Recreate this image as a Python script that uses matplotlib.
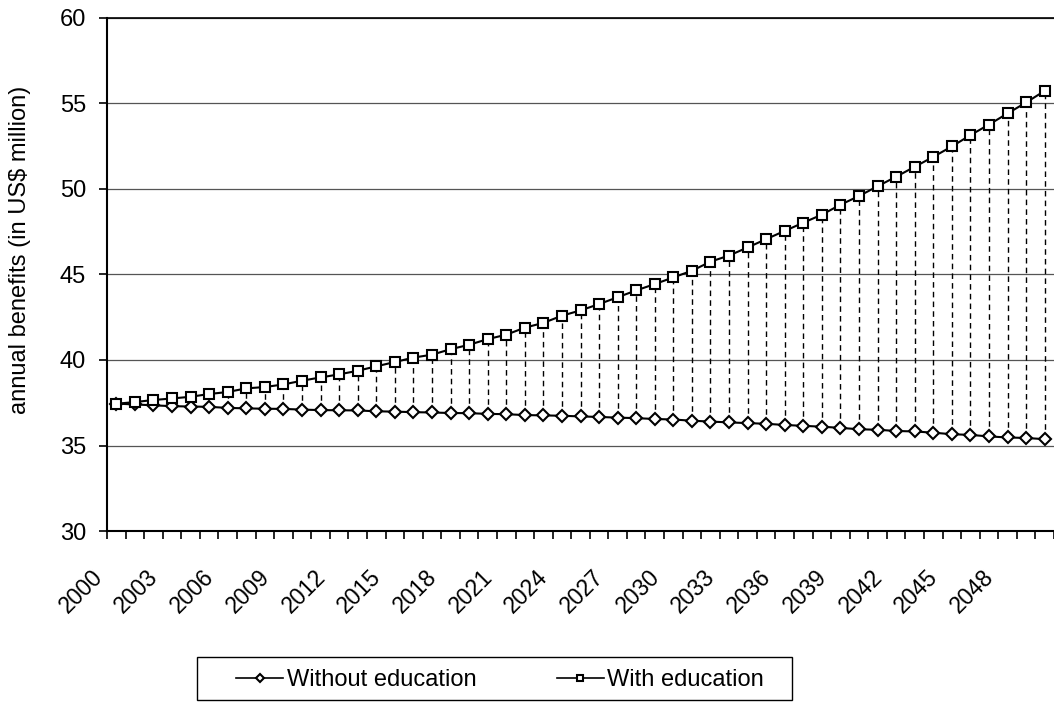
import matplotlib
matplotlib.use("Agg")
from matplotlib import pyplot as plt
from matplotlib.patches import Rectangle
import numpy as np

plt.rcParams["font.family"] = ["Liberation Sans", "DejaVu Sans"]

years = list(range(2000, 2051))

# valeurs (millions US$)
without_edu = [37.45, 37.40, 37.35, 37.30, 37.28, 37.26, 37.20, 37.17, 37.15, 37.14,
               37.10, 37.07, 37.06, 37.05, 37.00, 36.98, 36.95, 36.93, 36.90, 36.89,
               36.85, 36.83, 36.78, 36.76, 36.74, 36.70, 36.67, 36.63, 36.60, 36.55,
               36.52, 36.45, 36.40, 36.35, 36.31, 36.27, 36.20, 36.15, 36.10, 36.03,
               35.95, 35.92, 35.85, 35.82, 35.75, 35.66, 35.62, 35.53, 35.47, 35.44,
               35.37]
with_edu = [37.44, 37.54, 37.66, 37.75, 37.85, 38.01, 38.13, 38.34, 38.42, 38.57,
            38.79, 38.98, 39.16, 39.37, 39.63, 39.88, 40.14, 40.31, 40.63, 40.89,
            41.22, 41.48, 41.89, 42.17, 42.59, 42.90, 43.27, 43.67, 44.07, 44.44,
            44.83, 45.22, 45.75, 46.11, 46.58, 47.07, 47.55, 48.03, 48.50, 49.08,
            49.59, 50.16, 50.72, 51.30, 51.88, 52.49, 53.15, 53.77, 54.42, 55.06,
            55.74]
y_ticks = [30, 35, 40, 45, 50, 55, 60]

W, H = 1054, 702
fig = plt.figure(figsize=(W / 100, H / 100), dpi=100)
ax = fig.add_axes([107 / W, 171 / H, 947 / W, 513 / H])

x = np.arange(len(years))

# lignes pointillees entre les deux series
ax.vlines(x, without_edu, with_edu, colors="black", linestyles=(0, (4, 3)),
          linewidth=1.0, zorder=2)

ax.plot(x, without_edu, color="black", linewidth=1.5, marker="D", markersize=6.5,
        markerfacecolor="white", markeredgecolor="black", markeredgewidth=1.5,
        label="Without education", zorder=3)
ax.plot(x, with_edu, color="black", linewidth=1.5, marker="s", markersize=7,
        markerfacecolor="white", markeredgecolor="black", markeredgewidth=1.5,
        label="With education", zorder=4)

ax.set_xlim(-0.5, len(years) - 0.5)
ax.set_ylim(30, 60)
ax.set_yticks(y_ticks)
ax.yaxis.grid(True, color="#555555", linewidth=0.9)
ax.set_axisbelow(True)

# ticks entre les categories, etiquettes tous les 3 ans
ax.set_xticks(np.arange(len(years) + 1) - 0.5, minor=True)
ax.set_xticks(np.arange(0, len(years), 3) - 0.5)
ax.set_xticklabels([str(y) for y in years[::3]], rotation=45, ha="right",
                   va="top", fontsize=16.5)
ax.tick_params(axis="x", which="both", direction="out", length=6, width=1.2)
ax.tick_params(axis="x", which="major", pad=19)
ax.tick_params(axis="y", direction="out", length=6, width=1.2, labelsize=17, pad=9)

ax.spines["right"].set_visible(False)
ax.spines["top"].set_linewidth(1.2)
ax.spines["left"].set_linewidth(1.5)
ax.spines["bottom"].set_linewidth(1.5)

ax.set_ylabel("annual benefits (in US$ million)", fontsize=17)
ax.yaxis.set_label_coords(-0.08, 0.548)

# cadre de la legende
fig.patches.append(Rectangle((197 / W, 2 / H), 595 / W, 43 / H,
                             transform=fig.transFigure, fill=False,
                             edgecolor="black", linewidth=1.0))
leg = fig.legend(loc="center", bbox_to_anchor=(500 / W, 22 / H), ncol=2,
                 fontsize=17, frameon=False, handlelength=2.0,
                 handletextpad=0.15, columnspacing=3.4, markerscale=0.6)
for line in leg.get_lines():
    line.set_linewidth(1.2)

fig.savefig("out.png", dpi=100)
plt.close()
